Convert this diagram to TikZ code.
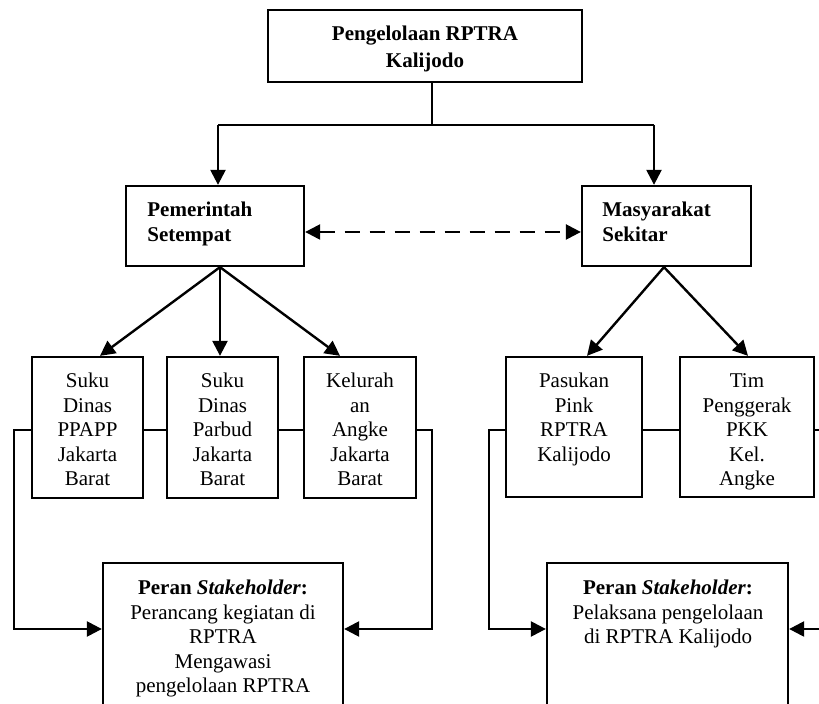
\documentclass[tikz,border=0pt]{standalone}
\usepackage{fontspec}
\setmainfont{Liberation Serif}
\usetikzlibrary{arrows.meta,calc,fit}
\begin{document}
\begin{tikzpicture}[x=0.5pt,y=-0.5pt,
  box/.style={draw,line width=1.15pt,inner sep=0pt},
  txt/.style={font=\fontsize{10.5}{12.25}\selectfont,inner sep=0pt,anchor=base},
  btxt/.style={txt,font=\fontsize{10.5}{12.25}\selectfont\bfseries},
  ln/.style={line width=1.2pt},
  arr/.style={line width=1.2pt,-{Triangle[length=7.5pt,width=7.5pt]}},
  darr/.style={line width=1.2pt,dash pattern=on 7.5pt off 5pt,{Triangle[length=7.5pt,width=7.5pt]}-{Triangle[length=7.5pt,width=7.5pt]}}]
\useasboundingbox (0,0) rectangle (819,704);
\clip (0,0) rectangle (819,704);

% boxes
\node[box,fit={(268,10)(582,82)}] (T) {};
\node[box,fit={(126,186)(304,266)}] (P) {};
\node[box,fit={(582,186)(751,266)}] (M) {};
\node[box,fit={(32,357)(143,498)}] (B1) {};
\node[box,fit={(167,357)(278,498)}] (B2) {};
\node[box,fit={(304,357)(416,498)}] (B3) {};
\node[box,fit={(506,357)(642,497)}] (B4) {};
\node[box,fit={(680,357)(814,497)}] (B5) {};
\node[box,fit={(103,563)(343,740)}] (L) {};
\node[box,fit={(547,563)(788,740)}] (R) {};

% texts
\node[btxt] (t1) at (425,41) {Pengelolaan RPTRA};
\node[btxt] (t2) at (425,68) {Kalijodo};
\node[btxt,anchor=base west] (p1) at (147,217) {Pemerintah};
\node[btxt,anchor=base west] (p2) at (147,242) {Setempat};
\node[btxt,anchor=base west] (m1) at (602,217) {Masyarakat};
\node[btxt,anchor=base west] (m2) at (602,242) {Sekitar};
\foreach \t [count=\i] in {Suku,Dinas,PPAPP,Jakarta,Barat}
  \node[txt] (b1l\i) at (87.5,{388+(\i-1)*24.5}) {\t};
\foreach \t [count=\i] in {Suku,Dinas,Parbud,Jakarta,Barat}
  \node[txt] (b2l\i) at (222.5,{388+(\i-1)*24.5}) {\t};
\foreach \t [count=\i] in {Kelurah,an,Angke,Jakarta,Barat}
  \node[txt] (b3l\i) at (360,{388+(\i-1)*24.5}) {\t};
\foreach \t [count=\i] in {Pasukan,Pink,RPTRA,Kalijodo}
  \node[txt] (b4l\i) at (574,{388+(\i-1)*24.5}) {\t};
\foreach \t [count=\i] in {Tim,Penggerak,PKK,Kel.,Angke}
  \node[txt] (b5l\i) at (747,{388+(\i-1)*24.5}) {\t};
\node[txt] (l1) at (223,595) {\textbf{Peran \textit{Stakeholder}:}};
\node[txt] (l2) at (223,619.5) {Perancang kegiatan di};
\node[txt] (l3) at (223,644) {RPTRA};
\node[txt] (l4) at (223,668.5) {Mengawasi};
\node[txt] (l5) at (223,693) {pengelolaan RPTRA};
\node[txt] (r1) at (668,595) {\textbf{Peran \textit{Stakeholder}:}};
\node[txt] (r2) at (668,619.5) {Pelaksana pengelolaan};
\node[txt] (r3) at (668,644) {di RPTRA Kalijodo};

% top connectors
\coordinate (j1) at (432,125);
\coordinate (jl) at (218,125);
\coordinate (jr) at (654,125);
\draw[ln] (T.south -| j1) -- (j1);
\draw[ln] (jl) -- (jr);
\draw[arr] (jl) -- (jl |- P.north);
\draw[arr] (jr) -- (jr |- M.north);
\coordinate (dy) at (0,232);
\draw[darr] (P.east |- dy) -- (M.west |- dy);

% fans
\coordinate (po) at ($(P.south)+(5,0)$);
\draw[arr] (po) -- ($(B1.north)+(12.5,0)$);
\draw[arr] (po) -- ($(B2.north)+(-2.5,0)$);
\draw[arr] (po) -- ($(B3.north)+(-20,0)$);
\coordinate (mo) at ($(M.south)+(-2.5,0)$);
\draw[arr] (mo) -- ($(B4.north)+(13,0)$);
\draw[arr] (mo) -- ($(B5.north)+(1,0)$);

% lower connectors
\coordinate (hy) at (0,430);
\draw[ln] (B1.east |- hy) -- (B2.west |- hy);
\draw[ln] (B2.east |- hy) -- (B3.west |- hy);
\coordinate (a1) at (14,430);
\coordinate (a2) at (14,629);
\draw[arr] (B1.west |- hy) -- (a1) -- (a2) -- (L.west |- a2);
\coordinate (a3) at (432,430);
\coordinate (a4) at (432,629);
\draw[arr] (B3.east |- hy) -- (a3) -- (a4) -- (L.east |- a4);
\draw[ln] (B4.east |- hy) -- (B5.west |- hy);
\coordinate (a5) at (489,430);
\coordinate (a6) at (489,629);
\draw[arr] (B4.west |- hy) -- (a5) -- (a6) -- (R.west |- a6);
\coordinate (e1) at (830,430);
\draw[ln] (B5.east |- hy) -- (e1);
\coordinate (e2) at (830,629);
\draw[arr] (e2) -- (R.east |- e2);
\end{tikzpicture}
\end{document}
